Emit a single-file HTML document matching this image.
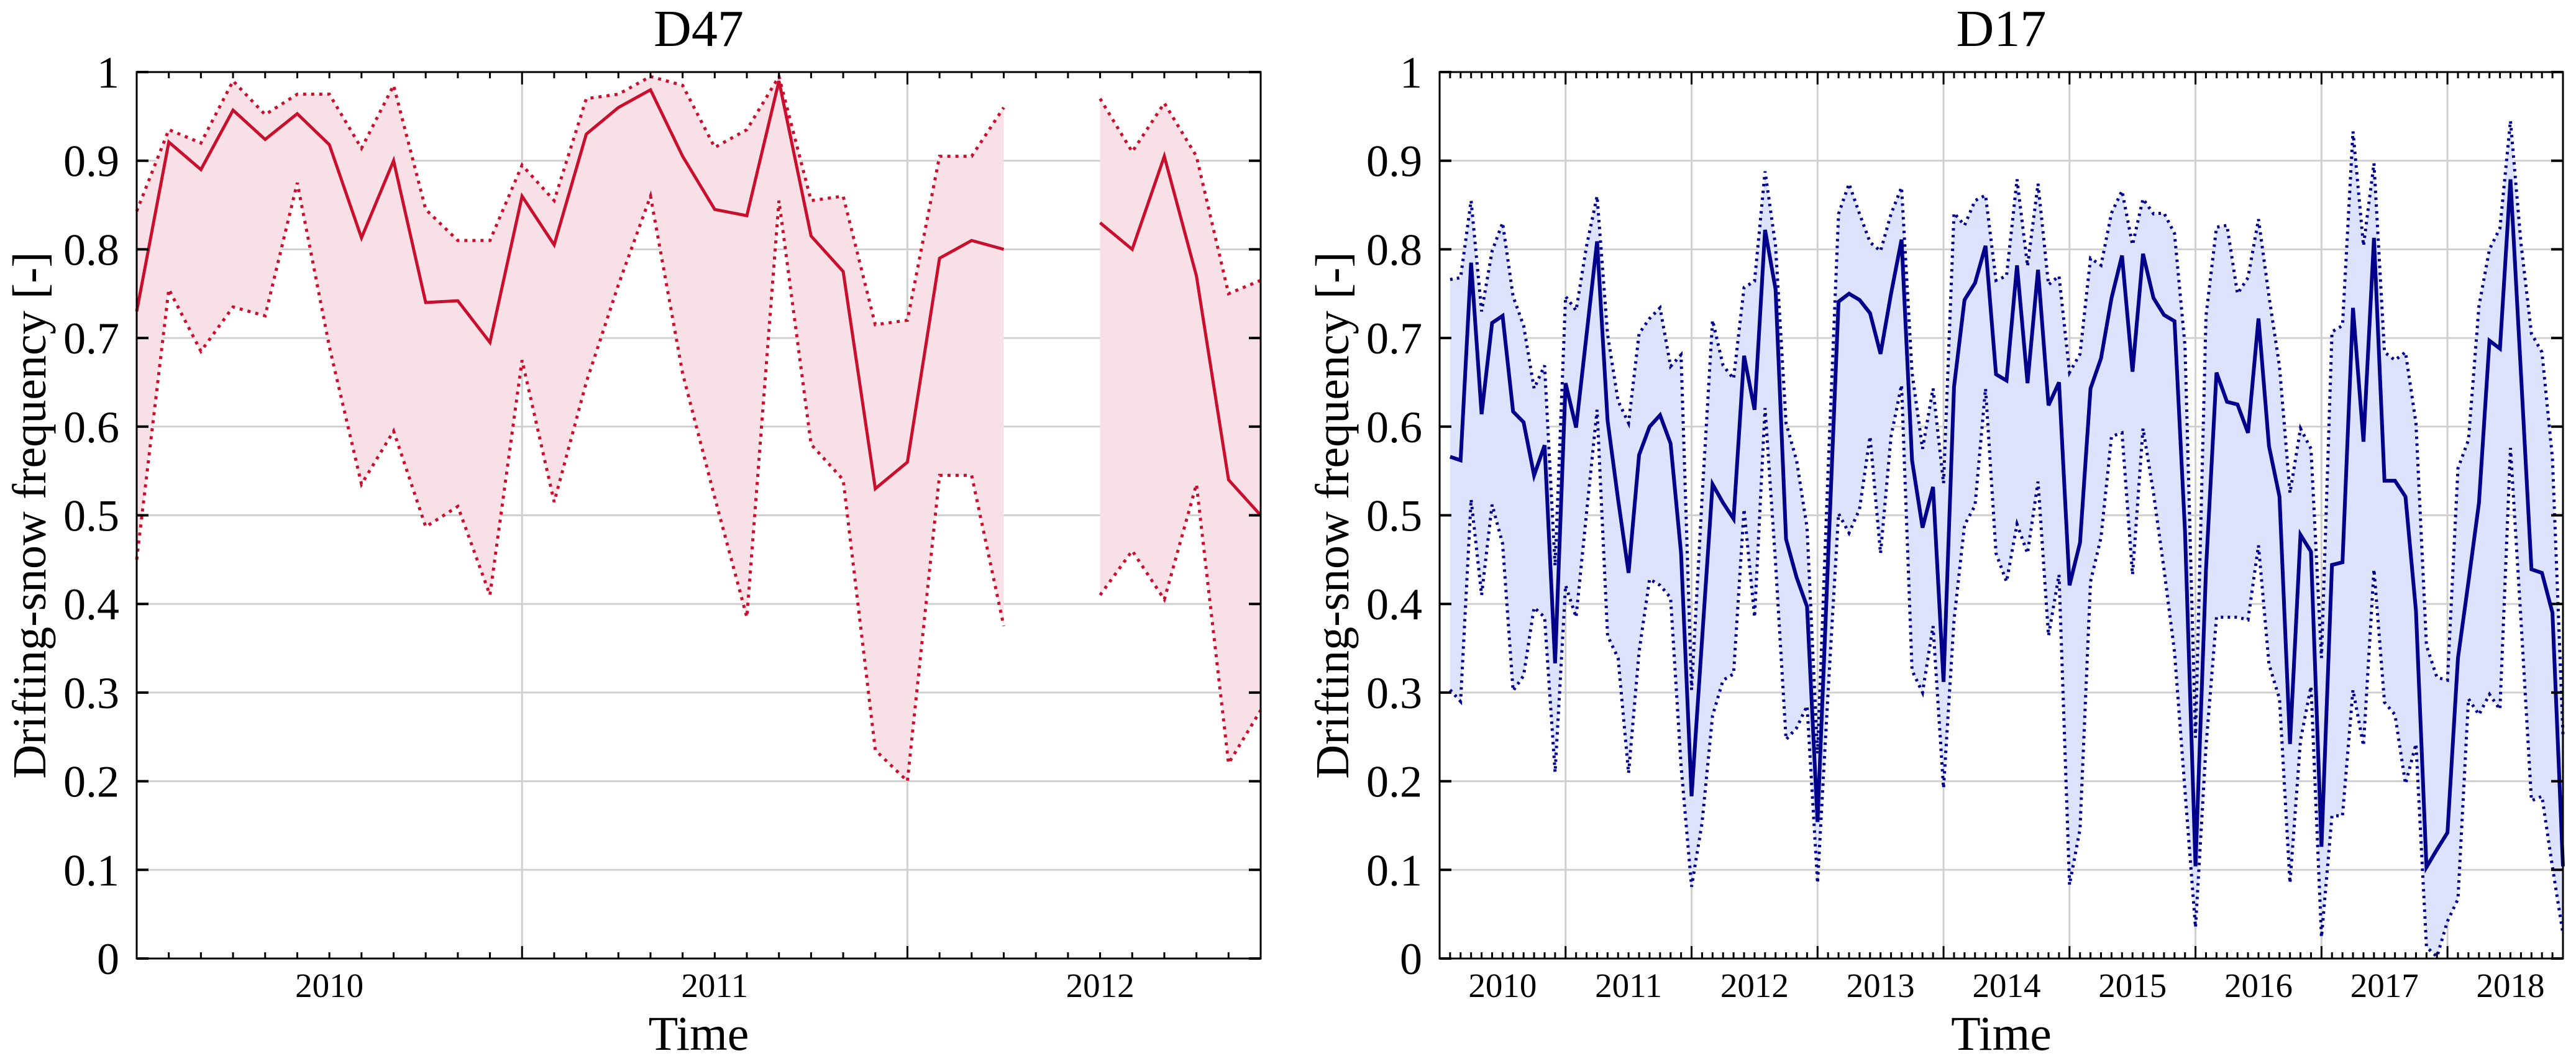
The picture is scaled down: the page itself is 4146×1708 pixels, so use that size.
<!DOCTYPE html>
<html><head><meta charset="utf-8"><style>
html,body{margin:0;padding:0;background:#fff;}
svg{display:block;font-family:"Liberation Serif","Times New Roman",serif;}
</style></head><body>
<svg id="fig" width="4146" height="1708" viewBox="0 0 4146 1708" xmlns="http://www.w3.org/2000/svg"></svg>
<script>
// ---- D47 data (monthly, index 0..35) ----
const d47Mean  = [0.73,0.921,0.89,0.957,0.924,0.953,0.918,0.813,0.90,0.74,0.742,0.695,0.86,0.805,0.93,0.96,0.98,0.905,0.845,0.838,0.99,0.815,0.775,0.53,0.56,0.79,0.81,0.80,null,null,0.83,0.80,0.905,0.77,0.54,0.50];
const d47Upper = [0.843,0.935,0.92,0.99,0.952,0.975,0.975,0.914,0.985,0.845,0.81,0.81,0.895,0.855,0.97,0.975,0.995,0.985,0.915,0.935,0.995,0.855,0.86,0.715,0.72,0.905,0.905,0.96,null,null,0.97,0.91,0.965,0.905,0.75,0.765];
const d47Lower = [0.45,0.755,0.685,0.735,0.725,0.875,0.69,0.535,0.595,0.487,0.51,0.41,0.675,0.515,0.65,0.76,0.86,0.66,0.52,0.385,0.855,0.58,0.54,0.235,0.20,0.545,0.545,0.375,null,null,0.41,0.46,0.405,0.535,0.22,0.28];
const d47YearLabels = ["2010","2011","2012"];
// ---- D17 data (monthly, index 1..107) ----
const d17Mean = [0.566,0.562,0.785,0.614,0.717,0.725,0.617,0.605,0.545,0.579,0.333,0.649,0.599,0.704,0.809,0.607,0.518,0.435,0.568,0.60,0.613,0.581,0.457,0.183,0.36,0.535,0.514,0.496,0.68,0.619,0.822,0.755,0.473,0.43,0.397,0.154,0.45,0.741,0.75,0.743,0.728,0.682,0.75,0.811,0.562,0.486,0.532,0.312,0.645,0.743,0.762,0.804,0.659,0.652,0.782,0.649,0.777,0.624,0.65,0.421,0.469,0.643,0.677,0.745,0.793,0.662,0.795,0.745,0.726,0.719,0.482,0.104,0.439,0.661,0.628,0.625,0.593,0.722,0.578,0.521,0.242,0.478,0.459,0.126,0.444,0.447,0.734,0.583,0.813,0.539,0.539,0.521,0.392,0.103,0.123,0.142,0.339,0.425,0.514,0.697,0.688,0.879,0.66,0.439,0.435,0.39,0.104];
const d17Upper = [0.766,0.768,0.855,0.73,0.798,0.83,0.747,0.714,0.643,0.669,0.443,0.747,0.731,0.804,0.86,0.704,0.629,0.604,0.705,0.722,0.734,0.668,0.681,0.303,0.52,0.72,0.669,0.654,0.757,0.764,0.888,0.804,0.604,0.562,0.486,0.231,0.55,0.84,0.874,0.84,0.808,0.798,0.84,0.87,0.661,0.575,0.643,0.536,0.841,0.827,0.855,0.861,0.765,0.77,0.879,0.781,0.874,0.76,0.77,0.661,0.682,0.79,0.782,0.841,0.866,0.805,0.857,0.84,0.841,0.818,0.691,0.249,0.725,0.825,0.827,0.75,0.768,0.834,0.747,0.668,0.525,0.598,0.575,0.339,0.707,0.714,0.933,0.804,0.897,0.684,0.675,0.684,0.604,0.353,0.317,0.314,0.553,0.585,0.736,0.8,0.824,0.945,0.807,0.705,0.684,0.564,0.253];
const d17Lower = [0.303,0.29,0.518,0.41,0.512,0.468,0.302,0.319,0.396,0.385,0.21,0.421,0.385,0.503,0.619,0.364,0.339,0.209,0.346,0.428,0.421,0.407,0.217,0.081,0.153,0.274,0.314,0.321,0.507,0.385,0.621,0.446,0.247,0.26,0.285,0.085,0.3,0.502,0.48,0.507,0.589,0.457,0.589,0.647,0.325,0.3,0.375,0.192,0.382,0.489,0.511,0.643,0.457,0.425,0.49,0.457,0.538,0.364,0.433,0.083,0.146,0.425,0.475,0.589,0.593,0.433,0.598,0.525,0.439,0.346,0.189,0.035,0.239,0.385,0.385,0.385,0.382,0.466,0.332,0.293,0.085,0.246,0.307,0.024,0.161,0.161,0.303,0.24,0.439,0.289,0.275,0.197,0.242,0.013,0.002,0.042,0.067,0.293,0.275,0.298,0.281,0.576,0.382,0.178,0.183,0.103,0.028];
const d17YearLabels = ["2010","2011","2012","2013","2014","2015","2016","2017","2018"];
const yTicks = [0,0.1,0.2,0.3,0.4,0.5,0.6,0.7,0.8,0.9,1];
const yTickLabels = ["0","0.1","0.2","0.3","0.4","0.5","0.6","0.7","0.8","0.9","1"];

const NS="http://www.w3.org/2000/svg";
const svg=document.getElementById('fig');
function mk(tag,attrs,parent){const e=document.createElementNS(NS,tag);for(const k in attrs)e.setAttribute(k,attrs[k]);(parent||svg).appendChild(e);return e;}

function drawPanel(cfg){
  const g=mk('g',{});
  
  
  const L=cfg.x0,R=cfg.x1,T=116,B=1543,nM=cfg.nMonths;
  const xS=m=>L+(R-L)*m/nM;
  const yS=v=>B-(B-T)*v;
  yTicks.forEach(v=>{if(v>0&&v<1){const l=mk('line',{x1:L,x2:R,y1:yS(v),y2:yS(v),stroke:'#d0d0d0','stroke-width':3},g);
    
    }});
  for(let m=12;m<nM;m+=12){const l=mk('line',{x1:xS(m),x2:xS(m),y1:T,y2:B,stroke:'#d0d0d0','stroke-width':3},g);
    
    }
  const segs=[];let cur=null;
  for(let i=0;i<cfg.mean.length;i++){const m=i+cfg.start;
    if(cfg.mean[i]==null){cur=null;continue;}
    if(!cur){cur=[];segs.push(cur);} cur.push({m,mean:cfg.mean[i],u:cfg.upper[i],l:cfg.lower[i]});}
  segs.forEach(s=>{
    let d='M'+s.map(p=>xS(p.m)+','+yS(p.u)).join(' L')+' L'+s.slice().reverse().map(p=>xS(p.m)+','+yS(p.l)).join(' L')+'Z';
    const f=mk('path',{d,fill:cfg.fill,stroke:'none'},g);
    
    
  });
  segs.forEach(s=>{
    const up=mk('polyline',{points:s.map(p=>xS(p.m)+','+yS(p.u)).join(' '),fill:'none',stroke:cfg.color,'stroke-width':cfg.dw,'stroke-dasharray':cfg.dash},g);
    
    
    const lo=mk('polyline',{points:s.map(p=>xS(p.m)+','+yS(p.l)).join(' '),fill:'none',stroke:cfg.color,'stroke-width':cfg.dw,'stroke-dasharray':cfg.dash},g);
    
    
    const me=mk('polyline',{points:s.map(p=>xS(p.m)+','+yS(p.mean)).join(' '),fill:'none',stroke:cfg.color,'stroke-width':cfg.mw,'stroke-linejoin':'miter'},g);
    
    
  });
  const box=mk('rect',{x:L,y:T,width:R-L,height:B-T,fill:'none',stroke:'#000','stroke-width':3},g);
  
  
  for(let m=1;m<nM;m++){const len=(m%12===0)?20:10;
    mk('line',{x1:xS(m),x2:xS(m),y1:B,y2:B-len,stroke:'#000','stroke-width':3},g);
    mk('line',{x1:xS(m),x2:xS(m),y1:T,y2:T+len,stroke:'#000','stroke-width':3},g);}
  yTicks.forEach((v,i)=>{
    mk('line',{x1:L,x2:L+19,y1:yS(v),y2:yS(v),stroke:'#000','stroke-width':4},g);
    mk('line',{x1:R,x2:R-19,y1:yS(v),y2:yS(v),stroke:'#000','stroke-width':4},g);
    const t=mk('text',{x:L-28,y:yS(v)+25,'text-anchor':'end','font-size':72,fill:'#000'},g);
    t.textContent=yTickLabels[i];
    
    
  });
  cfg.years.forEach((y,i)=>{
    const t=mk('text',{x:xS(6+12*i),y:1605,'text-anchor':'middle','font-size':55,fill:'#000'},g);
    t.textContent=y;
    
    
  });
  const tt=mk('text',{x:(L+R)/2,y:74,'text-anchor':'middle','font-size':84,fill:'#000'},g);
  tt.textContent=cfg.title;
  
  
  const xt=mk('text',{x:(L+R)/2,y:1690,'text-anchor':'middle','font-size':78,fill:'#000'},g);
  xt.textContent='Time';
  
  
  const cy=(T+B)/2, cx=L-172;
  const yt=mk('text',{x:cx,y:cy,'text-anchor':'middle','dominant-baseline':'central','font-size':76,fill:'#000',transform:`rotate(-90 ${cx} ${cy})`},g);
  yt.textContent='Drifting-snow frequency [-]';
  
  
}
drawPanel({name:'d47',title:'D47',x0:220,x1:2029,nMonths:35,start:0,mean:d47Mean,upper:d47Upper,lower:d47Lower,years:d47YearLabels,color:'#c8102e',fill:'#f7e1e7',mw:5,dw:5,dash:'5 8'});
drawPanel({name:'d17',title:'D17',x0:2317,x1:4125,nMonths:107,start:1,mean:d17Mean,upper:d17Upper,lower:d17Lower,years:d17YearLabels,color:'#00008b',fill:'#dde3fd',mw:6,dw:5,dash:'4 7'});
</script>
</body></html>
